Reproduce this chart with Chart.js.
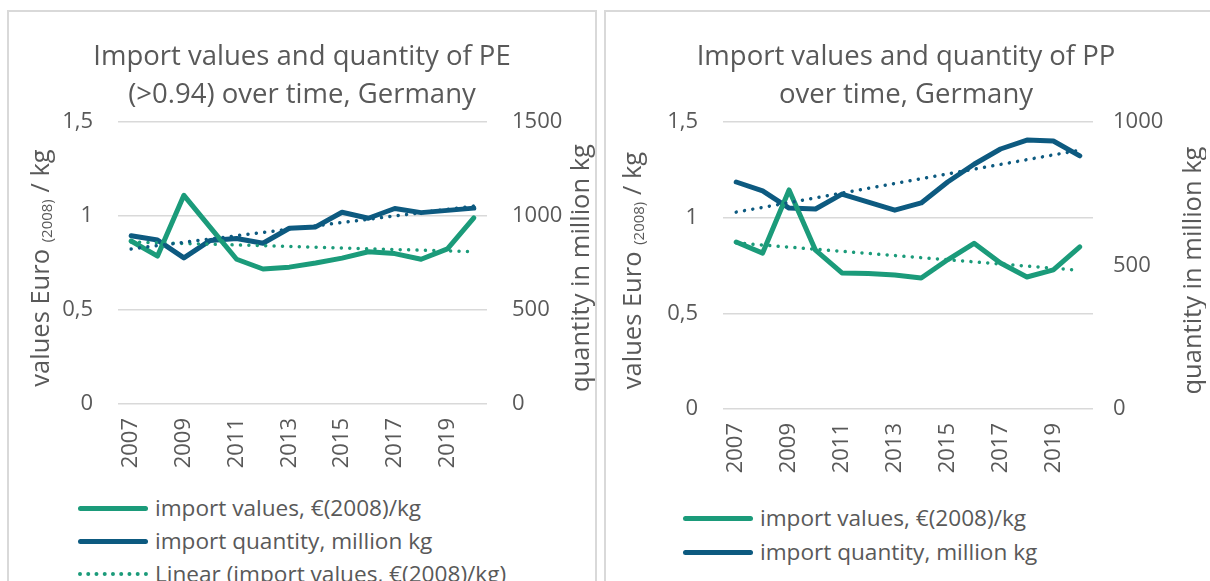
<!DOCTYPE html>
<html>
<head>
<meta charset="utf-8">
<script src="https://cdn.jsdelivr.net/npm/chart.js@4/dist/chart.umd.min.js"></script>
<style>
  html, body { margin: 0; padding: 0; background: #ffffff; }
  body { width: 1210px; height: 581px; overflow: hidden; position: relative; font-family: "Open Sans", sans-serif; }
  .box { position: absolute; border: 2px solid #d9d9d9; background: #fff; }
  .box canvas { position: absolute; left: 0; top: 0; }
  .lg-row { position: absolute; height: 30px; display: flex; align-items: center; white-space: nowrap; }
  .lg-sample { width: 70px; flex: none; }
  .lg-text { font-size: 22.6px; color: #595959; margin-left: 7px; line-height: 30px; }
</style>
</head>
<body>
<div class="box" id="boxL" style="left:7px; top:10px; width:586px; height:600px;">
  <canvas id="cL" width="586" height="478"></canvas>
</div>
<div class="box" id="boxR" style="left:604px; top:10px; width:610px; height:600px;">
  <canvas id="cR" width="600" height="478"></canvas>
</div>
<script>
// ---------- data ----------
const years = ['2007','2008','2009','2010','2011','2012','2013','2014','2015','2016','2017','2018','2019','2020'];

// PE (>0.94)
const peValues   = [0.867, 0.787, 1.11, 0.94, 0.77, 0.718, 0.728, 0.75, 0.776, 0.81, 0.80, 0.77, 0.825, 0.99];
const peQuantity = [895, 872, 777, 870, 880, 855, 935, 942, 1020, 988, 1040, 1018, 1030, 1042];
const peValuesTrend   = [0.862, null, null, null, null, null, null, null, null, null, null, null, null, 0.81];
const peQuantityTrend = [825, null, null, null, null, null, null, null, null, null, null, null, null, 1053];

// PP
const ppValues   = [0.873, 0.815, 1.145, 0.83, 0.711, 0.708, 0.70, 0.685, 0.78, 0.866, 0.763, 0.69, 0.727, 0.847];
const ppQuantity = [791, 760, 700, 697, 749, 721, 693, 718, 791, 853, 906, 937, 934, 882];
const ppValuesTrend   = [0.868, null, null, null, null, null, null, null, null, null, null, null, null, 0.725];
const ppQuantityTrend = [686, null, null, null, null, null, null, null, null, null, null, null, null, 902];

// tick labels
const leftTickValues  = [0, 0.5, 1, 1.5];
const leftTickLabels  = ['0', '0,5', '1', '1,5'];
const peRightTicks    = [0, 500, 1000, 1500];
const ppRightTicks    = [0, 500, 1000];

// texts
const peTitle = ['Import values and quantity of PE', '(>0.94) over time, Germany'];
const ppTitle = ['Import values and quantity of PP', 'over time, Germany'];
const seriesNames = ['import values, €(2008)/kg', 'import quantity, million kg',
                     'Linear (import values, €(2008)/kg)', 'Linear (import quantity, million kg)'];
const leftAxisTitleParts = ['values Euro ', '(2008)', ' / kg'];
const rightAxisTitle = 'quantity in million kg';

// ---------- styling ----------
const GREEN = '#1b9b7a';
const BLUE  = '#0d5a80';
const TEXT  = '#595959';
const GRID  = '#d9d9d9';
const FONT  = '"Open Sans", sans-serif';

const axisTitlePlugin = {
  id: 'axisTitles',
  afterDraw(chart, args, opts) {
    const { ctx, chartArea } = chart;
    const cy = (chartArea.top + chartArea.bottom) / 2 + (opts.dy || 0);
    (opts.items || []).forEach(item => {
      ctx.save();
      ctx.translate(item.x, cy);
      ctx.rotate(-Math.PI / 2);
      ctx.fillStyle = TEXT;
      ctx.textBaseline = 'alphabetic';
      ctx.textAlign = 'left';
      let total = 0;
      const parts = item.parts.map(p => {
        ctx.font = p.size + 'px ' + FONT;
        const w = ctx.measureText(p.text).width;
        total += w;
        return Object.assign({ w }, p);
      });
      let x = -total / 2;
      parts.forEach(p => {
        ctx.font = p.size + 'px ' + FONT;
        ctx.fillText(p.text, x, item.baseline + (p.dy || 0));
        x += p.w;
      });
      ctx.restore();
    });
  }
};

function makeChart(canvasId, cfg) {
  const datasets = [
    { label: seriesNames[0], data: cfg.values, yAxisID: 'y', borderColor: cfg.green, backgroundColor: cfg.green,
      borderWidth: 5, pointRadius: 0, tension: 0, borderJoinStyle: 'round', borderCapStyle: 'round', order: 2 },
    { label: seriesNames[1], data: cfg.quantity, yAxisID: 'y1', borderColor: cfg.blue, backgroundColor: cfg.blue,
      borderWidth: 5, pointRadius: 0, tension: 0, borderJoinStyle: 'round', borderCapStyle: 'round', order: 3 },
    { label: seriesNames[2], data: cfg.valuesTrend, yAxisID: 'y', borderColor: cfg.green, backgroundColor: cfg.green,
      borderWidth: 3.5, borderDash: [0.01, 8.4], borderCapStyle: 'round', pointRadius: 0, spanGaps: true, tension: 0, order: 1 },
    { label: seriesNames[3], data: cfg.quantityTrend, yAxisID: 'y1', borderColor: cfg.blue, backgroundColor: cfg.blue,
      borderWidth: 3.5, borderDash: [0.01, 8.4], borderCapStyle: 'round', pointRadius: 0, spanGaps: true, tension: 0, order: 0 }
  ];
  const chart = new Chart(document.getElementById(canvasId), {
    type: 'line',
    data: { labels: years, datasets },
    options: {
      responsive: false,
      animation: false,
      devicePixelRatio: 1,
      layout: { padding: 0 },
      plugins: {
        legend: { display: false },
        tooltip: { enabled: false },
        title: {
          display: true, text: cfg.title, color: TEXT,
          font: { family: FONT, size: 27.5, weight: 'normal', lineHeight: 1.375 },
          padding: { top: 26, bottom: 8.4 }
        },
        axisTitles: { dy: 5, items: [
          { x: cfg.leftTitleX, baseline: 9, parts: [
            { text: leftAxisTitleParts[0], size: 25.5 },
            { text: leftAxisTitleParts[1], size: 15, dy: 3 },
            { text: leftAxisTitleParts[2], size: 25.5 } ] },
          { x: cfg.rightTitleX, baseline: 9, parts: [ { text: rightAxisTitle, size: 25.5 } ] }
        ] }
      },
      scales: {
        x: {
          type: 'category', offset: true,
          grid: { display: false, drawTicks: false },
          border: { display: false },
          ticks: {
            color: TEXT, font: { family: FONT, size: 22 }, padding: 14,
            autoSkip: false, maxRotation: 90, minRotation: 90,
            callback: (v, i) => (i % 2 === 0 ? years[i] : '')
          },
          afterFit: s => { s.height = cfg.xHeight; }
        },
        y: {
          position: 'left', min: 0, max: 1.5,
          grid: { color: GRID, lineWidth: 1.5, drawTicks: false },
          border: { display: false },
          afterBuildTicks: s => { s.ticks = leftTickValues.map(v => ({ value: v })); },
          ticks: {
            color: TEXT, font: { family: FONT, size: 22 }, padding: 25,
            callback: v => leftTickLabels[leftTickValues.indexOf(v)]
          },
          afterFit: s => { s.width = cfg.yWidth; }
        },
        y1: {
          position: 'right', min: 0, max: cfg.rightMax,
          grid: { display: false, drawTicks: false },
          border: { display: false },
          afterBuildTicks: s => { s.ticks = cfg.rightTicks.map(v => ({ value: v })); },
          ticks: {
            color: TEXT, font: { family: FONT, size: 22 }, padding: cfg.rightPad,
            callback: v => String(v)
          },
          afterFit: s => { s.width = cfg.y1Width; }
        }
      }
    },
    plugins: [axisTitlePlugin]
  });

  // legend (HTML) built from the chart's datasets
  const box = document.getElementById(cfg.boxId);
  cfg.legendRows.forEach((centerY, i) => {
    const ds = chart.data.datasets[i];
    const row = document.createElement('div');
    row.className = 'lg-row';
    row.style.left = cfg.legendX + 'px';
    row.style.top = (centerY - 15) + 'px';
    const sample = document.createElement('div');
    sample.className = 'lg-sample';
    if (ds.borderDash) {
      sample.style.borderTop = '4px dotted ' + ds.borderColor;
      sample.style.height = '0';
    } else {
      sample.style.height = '5px';
      sample.style.borderRadius = '3px';
      sample.style.background = ds.borderColor;
    }
    const txt = document.createElement('span');
    txt.className = 'lg-text';
    txt.textContent = ds.label;
    row.appendChild(sample);
    row.appendChild(txt);
    box.appendChild(row);
  });
  return chart;
}

makeChart('cL', {
  boxId: 'boxL', title: peTitle, green: GREEN, blue: BLUE,
  values: peValues, quantity: peQuantity, valuesTrend: peValuesTrend, quantityTrend: peQuantityTrend,
  rightMax: 1500, rightTicks: peRightTicks, rightPad: 25,
  yWidth: 109, y1Width: 108, xHeight: 86,
  leftTitleX: 31, rightTitleX: 571,
  legendX: 69, legendRows: [496, 529, 562]
});

makeChart('cR', {
  boxId: 'boxR', title: ppTitle, green: GREEN, blue: BLUE,
  values: ppValues, quantity: ppQuantity, valuesTrend: ppValuesTrend, quantityTrend: ppQuantityTrend,
  rightMax: 1000, rightTicks: ppRightTicks, rightPad: 20,
  yWidth: 117, y1Width: 113, xHeight: 81,
  leftTitleX: 26, rightTitleX: 586,
  legendX: 77, legendRows: [506, 540]
});
</script>
</body>
</html>
